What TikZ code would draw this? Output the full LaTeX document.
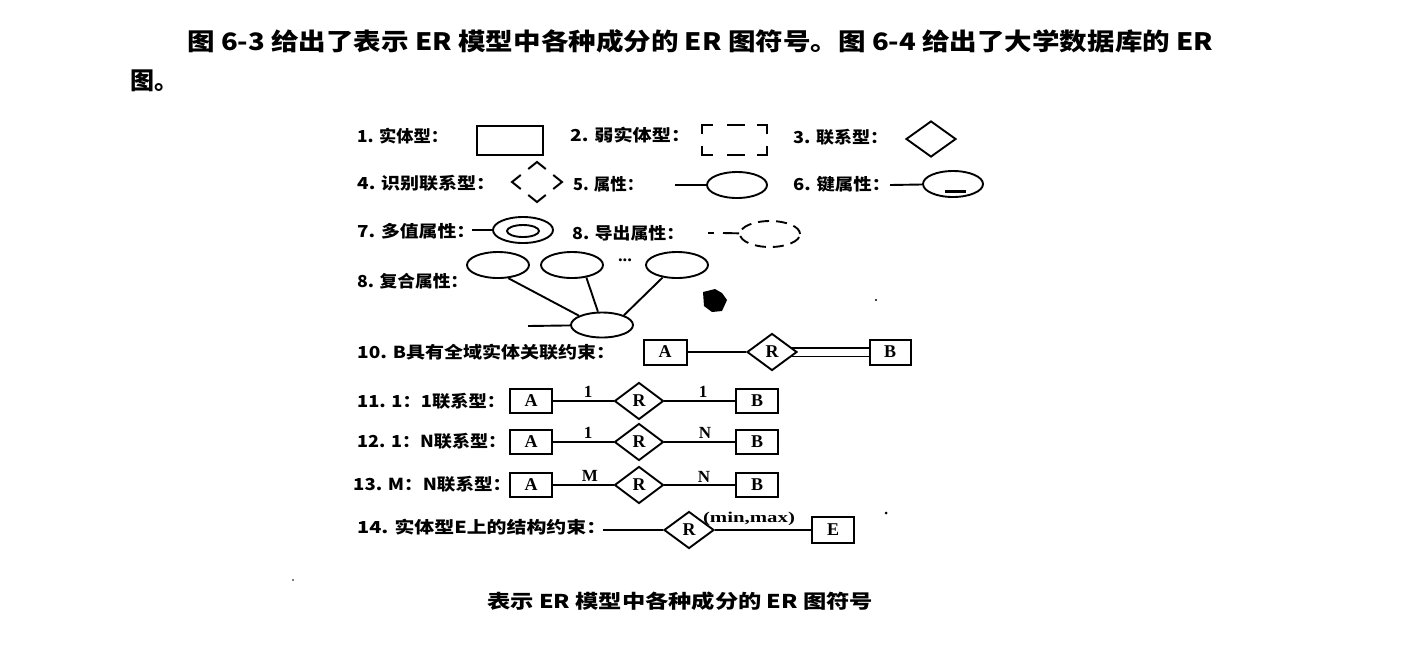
\documentclass[tikz,border=0pt]{standalone}
\usepackage{fontspec}
\setmainfont{Liberation Serif}
\newfontfamily\cjk{Noto Sans CJK SC}
\usetikzlibrary{shapes.geometric,backgrounds}
\newcommand{\fitw}[2]{\resizebox{#1}{\height}{#2}}
\begin{document}
\begin{tikzpicture}[x=1pt,y=-1pt,
  hdr/.style={anchor=west,inner sep=0pt,font=\cjk\bfseries\fontsize{24}{24}\selectfont},
  lab/.style={anchor=west,inner sep=0pt,font=\cjk\bfseries\fontsize{16.5}{16.5}\selectfont},
  ent/.style={draw,line width=2pt,fill=white,minimum width=42pt,minimum height=24pt,inner sep=0pt,font=\bfseries\fontsize{18}{18}\selectfont},
  rel/.style={draw,diamond,line width=1.9pt,fill=white,minimum width=49pt,minimum height=37pt,inner sep=0pt,font=\bfseries\fontsize{18}{18}\selectfont},
  att/.style={draw,ellipse,line width=1.9pt,fill=white,minimum width=60pt,minimum height=26pt,inner sep=0pt},
  card/.style={inner sep=0pt,font=\bfseries\fontsize{17}{17}\selectfont},
  conn/.style={line width=1.9pt},
  heavyconn/.style={line width=2.8pt},
]
\useasboundingbox (0,0) rectangle (1421,649);

% header
\node[hdr] (h1) at (187,41) {\fitw{1026pt}{图 6-3 给出了表示 ER 模型中各种成分的 ER 图符号。图 6-4 给出了大学数据库的 ER}};
\node[hdr] (h2) at (130,81) {图。};

% labels
\node[lab] (l1) at (357,136) {\fitw{91pt}{1. 实体型：}};
\node[lab] (l2) at (570,135) {\fitw{120pt}{2. 弱实体型：}};
\node[lab] (l3) at (793,137) {\fitw{95pt}{3. 联系型：}};
\node[lab] (l4) at (357,183) {\fitw{138pt}{4. 识别联系型：}};
\node[lab] (l5) at (573,184) {\fitw{70pt}{5. 属性：}};
\node[lab] (l6) at (793,184) {\fitw{97pt}{6. 键属性：}};
\node[lab] (l7) at (357,231) {\fitw{118pt}{7. 多值属性：}};
\node[lab] (l8) at (572,233) {\fitw{112pt}{8. 导出属性：}};
\node[lab] (l9) at (357,281) {\fitw{111pt}{8. 复合属性：}};
\node[lab] (l10) at (357,352) {\fitw{258pt}{10. B具有全域实体关联约束：}};
\node[lab] (l11) at (357,401) {\fitw{148pt}{11. 1：1联系型：}};
\node[lab] (l12) at (357,441) {\fitw{149pt}{12. 1：N联系型：}};
\node[lab] (l13) at (353,484) {\fitw{158pt}{13. M：N联系型：}};
\node[lab] (l14) at (357,527) {\fitw{249pt}{14. 实体型E上的结构约束：}};

% caption
\node[anchor=west,inner sep=0pt,font=\cjk\bfseries\fontsize{19}{19}\selectfont] (cap) at (487,601) {\fitw{386pt}{表示 ER 模型中各种成分的 ER 图符号}};

% 1 entity
\node[ent,minimum width=66pt,minimum height=29pt] (e1) at (510,140) {};
% 2 weak entity
\draw[line width=2pt] (702,134)--(702,125)--(713,125) (727,125)--(745,125) (757,125)--(767,125)--(767,134)
  (702,146)--(702,155)--(713,155) (727,155)--(745,155) (757,155)--(767,155)--(767,146);
% 3 relationship
\node[rel,minimum width=50pt,minimum height=36pt] (d3) at (931,139) {};
% 4 identifying relationship (corners only)
\draw[line width=2pt] (520.75,175)--(512,182)--(520.75,189)
  (553.25,175)--(562,182)--(553.25,189)
  (528.25,169)--(537,162)--(545.75,169)
  (528.25,195)--(537,202)--(545.75,195);
% 5 attribute
\node[att] (a5) at (737,185) {};
\coordinate (a5s) at (675,185);
% 6 key attribute
\node[att] (a6) at (953,184) {};
\coordinate (a6s) at (890,185);
\draw[line width=3pt] (945,191)--(966,191);
% 7 multivalued
\node[att] (a7) at (523,230) {};
\node[draw,ellipse,line width=1.9pt,minimum width=32pt,minimum height=12pt,inner sep=0pt] (a7i) at (523,231) {};
\coordinate (a7s) at (472,230);
% 8 derived
\node[att,dash pattern=on 11pt off 7pt] (a8) at (770,234) {};
\coordinate (a8s) at (723,233);
\coordinate (a8d1) at (708,233);
\coordinate (a8d2) at (714,233);
% composite
\node[att,minimum width=62pt] (t1) at (498,265) {};
\node[att,minimum width=62pt] (t2) at (572,265) {};
\node[att,minimum width=62pt] (t3) at (677,265) {};
\node[inner sep=0pt,font=\bfseries\fontsize{18}{18}\selectfont] (dots) at (625,260) {\fitw{14pt}{...}};
\node[att,minimum width=62pt,minimum height=25pt] (cb) at (602,325) {};
\coordinate (cbs) at (528,326);

% 10
\node[ent,minimum width=43pt,minimum height=25pt] (A10) at (665,352) {A};
\node[rel,minimum width=50pt] (R10) at (772,352) {R};
\node[ent,minimum width=41pt,minimum height=25pt] (B10) at (890,352) {B};
% 11
\node[ent] (A11) at (531,401) {A};
\node[rel] (R11) at (639,401) {R};
\node[ent] (B11) at (757,401) {B};
\node[card] (c11a) at (588,392) {1};
\node[card] (c11b) at (703,392) {1};
% 12
\node[ent] (A12) at (531,442) {A};
\node[rel] (R12) at (639,442) {R};
\node[ent] (B12) at (757,442) {B};
\node[card] (c12a) at (588,433) {1};
\node[card] (c12b) at (705,433) {N};
% 13
\node[ent] (A13) at (531,485) {A};
\node[rel] (R13) at (639,485) {R};
\node[ent] (B13) at (757,485) {B};
\node[card] (c13a) at (590,476) {M};
\node[card] (c13b) at (704,477) {N};
% 14
\coordinate (s14) at (603,530);
\node[rel,minimum width=50pt] (R14) at (689,530) {R};
\node[ent,minimum height=26pt] (E14) at (833,530) {E};
\node[inner sep=0pt,font=\bfseries\fontsize{15}{15}\selectfont] (mm) at (749,519) {\fitw{92pt}{(min,max)}};

% scan specks
\fill (703,292) -- (715,289) -- (722,293) -- (727,300) -- (722,311) -- (712,312) -- (704,306) -- cycle;
\fill (876,300) circle (1.2pt);
\fill (886,513) circle (1.5pt);
\fill (293,580) circle (0.8pt);

\begin{scope}[on background layer]
\draw[conn] (a5s) -- (a5);
\draw[conn] (a6s) -- (a6);
\draw[conn] (a7s) -- (a7);
\draw[conn] (a8d1) -- (a8d2);
\draw[conn] (a8s) -- (a8);
\draw[conn] (t1.-52) -- (cb.158);
\draw[conn] (t2.-41) -- (cb.107);
\draw[conn] (t3.-139) -- (cb.24);
\draw[conn] (cbs) -- (cb);
\draw[conn] (A10) -- (R10);
\draw[line width=1.9pt,double,double distance=7pt] (R10.center) -- (B10.west);
\draw[conn] (A11) -- (R11);
\draw[conn] (R11) -- (B11);
\draw[heavyconn] (A12) -- (R12);
\draw[conn] (R12) -- (B12);
\draw[heavyconn] (A13) -- (R13);
\draw[heavyconn] (R13) -- (B13);
\draw[conn] (s14) -- (R14);
\draw[conn] (R14) -- (E14);
\end{scope}
\end{tikzpicture}
\end{document}
